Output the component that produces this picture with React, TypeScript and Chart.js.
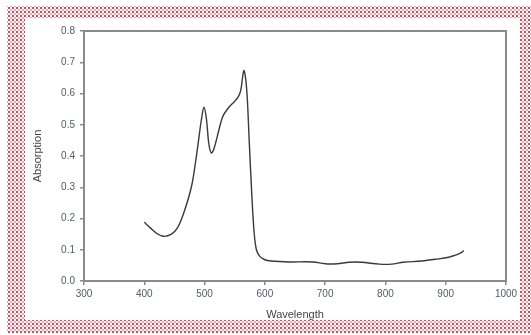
import React, { useEffect, useRef } from "react";
import { Chart, registerables } from "chart.js";

Chart.register(...registerables);

// Absorption spectrum (wavelength in nm, absorbance)
const wavelength = [
  400, 410, 420, 432, 445, 455, 465, 478, 485, 490, 495, 499, 503, 507, 511,
  515, 521, 526, 531, 540, 550, 556, 560, 565, 568, 571, 574, 578, 582, 586,
  592, 600, 610, 640, 680, 700, 720, 740, 760, 790, 810, 830, 860, 885, 905,
  915, 925, 930,
];
const absorption = [
  0.188, 0.17, 0.153, 0.143, 0.15, 0.17, 0.215, 0.3, 0.38, 0.45, 0.52, 0.556,
  0.52, 0.44, 0.41, 0.42, 0.462, 0.5, 0.53, 0.555, 0.575, 0.59, 0.61, 0.673,
  0.65, 0.58, 0.45, 0.29, 0.16, 0.1, 0.078, 0.068, 0.064, 0.061, 0.061, 0.055,
  0.055, 0.06, 0.06, 0.054, 0.054, 0.06, 0.064, 0.07, 0.076, 0.082, 0.09, 0.097,
];
const xTicks = [300, 400, 500, 600, 700, 800, 900, 1000];
const yTicks = [0, 0.1, 0.2, 0.3, 0.4, 0.5, 0.6, 0.7, 0.8];

const AXIS = "#8a8a8a";
const TICK_TEXT = "#555a66";

const framePlugin = {
  id: "frame",
  afterDraw(chart: any) {
    const { ctx, chartArea: a } = chart;
    ctx.save();
    ctx.strokeStyle = AXIS;
    ctx.lineWidth = 2;
    ctx.strokeRect(a.left, a.top, a.right - a.left, a.bottom - a.top);
    ctx.restore();
  },
};

export default function App() {
  const ref = useRef<HTMLCanvasElement | null>(null);

  useEffect(() => {
    if (!ref.current) return;
    const chart = new Chart(ref.current, {
      type: "line",
      data: {
        datasets: [
          {
            data: wavelength.map((w, i) => ({ x: w, y: absorption[i] })),
            borderColor: "#3a3a3a",
            borderWidth: 1.4,
            pointRadius: 0,
            tension: 0.35,
            fill: false,
          },
        ],
      },
      options: {
        animation: false,
        responsive: false,
        maintainAspectRatio: false,
        layout: { padding: { top: 31, right: 25, left: 31, bottom: 13 } },
        plugins: { legend: { display: false }, tooltip: { enabled: false } },
        scales: {
          x: {
            type: "linear",
            min: 300,
            max: 1000,
            afterBuildTicks: (s: any) => {
              s.ticks = xTicks.map((v) => ({ value: v }));
            },
            afterFit: (s: any) => {
              s.height = 335 - 13 - 281;
            },
            grid: {
              drawOnChartArea: false,
              drawTicks: true,
              tickLength: 4,
              color: AXIS,
              lineWidth: 1.5,
            },
            border: { color: AXIS, width: 2 },
            ticks: {
              color: TICK_TEXT,
              font: { family: "Liberation Sans", size: 10 },
              padding: 3,
              maxRotation: 0,
              autoSkip: false,
              callback: (v: any) => String(v),
            },
            title: {
              display: true,
              text: "Wavelength",
              color: "#444",
              font: { family: "Liberation Sans", size: 11 },
              padding: { top: 0, bottom: 0 },
            },
          },
          y: {
            type: "linear",
            min: 0,
            max: 0.8,
            afterBuildTicks: (s: any) => {
              s.ticks = yTicks.map((v) => ({ value: v }));
            },
            afterFit: (s: any) => {
              s.width = 84 - 31;
            },
            grid: {
              drawOnChartArea: false,
              drawTicks: true,
              tickLength: 4,
              color: AXIS,
              lineWidth: 1.5,
            },
            border: { color: AXIS, width: 2 },
            ticks: {
              color: TICK_TEXT,
              font: { family: "Liberation Sans", size: 10 },
              padding: 5,
              autoSkip: false,
              callback: (v: any) => Number(v).toFixed(1),
            },
            title: {
              display: true,
              text: "Absorption",
              color: "#444",
              font: { family: "Liberation Sans", size: 11 },
              padding: { top: 0, bottom: 0 },
            },
          },
        },
      },
      plugins: [framePlugin],
    });
    return () => chart.destroy();
  }, []);

  const dots =
    "radial-gradient(circle, rgba(204,42,60,0.85) 0.8px, transparent 1.1px), radial-gradient(circle, rgba(224,112,128,0.6) 0.8px, transparent 1.1px)";

  return (
    <div
      style={{
        position: "fixed",
        left: 0,
        top: 0,
        width: 531,
        height: 335,
        background: "#fff",
        overflow: "hidden",
      }}
    >
      {/* dotted red frame */}
      <div
        style={{
          position: "absolute",
          left: 7,
          top: 6,
          width: 524,
          height: 327,
          backgroundImage: dots,
          backgroundSize: "4px 4px, 4px 4px",
          backgroundPosition: "0 0, 2px 2px",
        }}
      />
      <div
        style={{
          position: "absolute",
          left: 25,
          top: 18,
          width: 495,
          height: 302,
          background: "#fff",
        }}
      />
      <canvas
        ref={ref}
        width={531}
        height={335}
        style={{ position: "absolute", left: 0, top: 0 }}
      />
    </div>
  );
}
